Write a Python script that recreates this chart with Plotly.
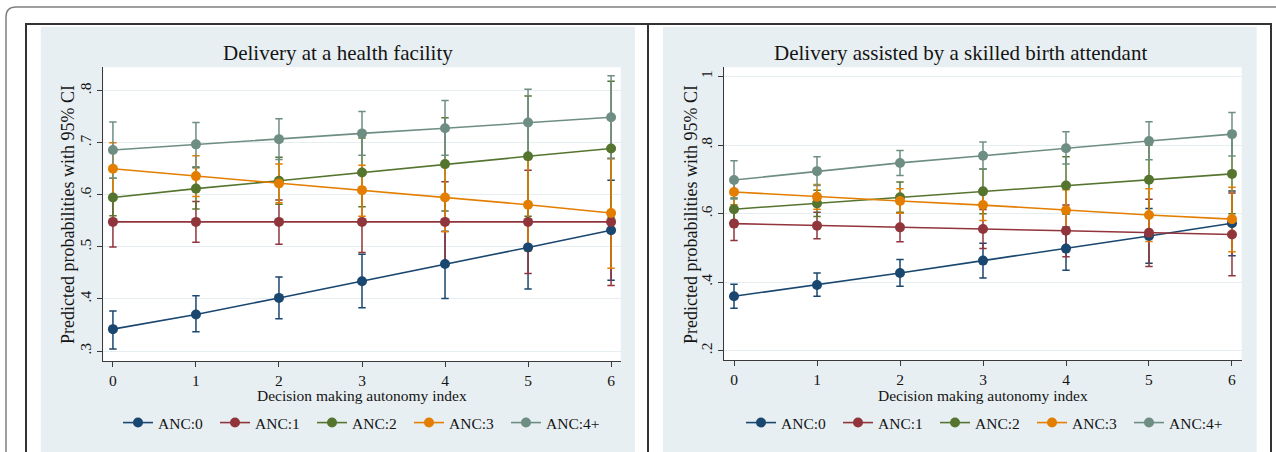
import plotly.graph_objects as go

# ---------------- data ----------------
autonomy = [0, 1, 2, 3, 4, 5, 6]
series_names = ["ANC:0", "ANC:1", "ANC:2", "ANC:3", "ANC:4+"]
series_colors = ["#1a476f", "#90353b", "#55752f", "#e37e00", "#6e8e84"]

# Panel 1: Delivery at a health facility
fac_est = [
    [0.342, 0.370, 0.402, 0.434, 0.467, 0.499, 0.532],
    [0.548, 0.548, 0.548, 0.548, 0.548, 0.548, 0.548],
    [0.595, 0.612, 0.627, 0.643, 0.659, 0.674, 0.689],
    [0.650, 0.636, 0.622, 0.609, 0.595, 0.581, 0.565],
    [0.686, 0.697, 0.707, 0.718, 0.728, 0.739, 0.749],
]
fac_lo = [
    [0.304, 0.337, 0.362, 0.383, 0.401, 0.419, 0.436],
    [0.500, 0.509, 0.505, 0.489, 0.471, 0.449, 0.426],
    [0.560, 0.573, 0.582, 0.577, 0.569, 0.559, 0.557],
    [0.600, 0.597, 0.585, 0.559, 0.529, 0.492, 0.459],
    [0.632, 0.654, 0.668, 0.676, 0.676, 0.675, 0.670],
]
fac_hi = [
    [0.377, 0.406, 0.442, 0.486, 0.530, 0.580, 0.628],
    [0.597, 0.587, 0.590, 0.606, 0.625, 0.647, 0.670],
    [0.632, 0.652, 0.672, 0.709, 0.748, 0.790, 0.818],
    [0.700, 0.675, 0.659, 0.657, 0.660, 0.668, 0.670],
    [0.740, 0.739, 0.746, 0.760, 0.781, 0.803, 0.829],
]

# Panel 2: Delivery assisted by a skilled birth attendant
sba_est = [
    [0.359, 0.392, 0.427, 0.463, 0.498, 0.535, 0.572],
    [0.571, 0.565, 0.560, 0.555, 0.550, 0.544, 0.539],
    [0.613, 0.630, 0.648, 0.665, 0.682, 0.699, 0.716],
    [0.663, 0.649, 0.637, 0.625, 0.610, 0.596, 0.584],
    [0.698, 0.724, 0.748, 0.769, 0.791, 0.812, 0.832],
]
sba_lo = [
    [0.324, 0.359, 0.388, 0.412, 0.435, 0.455, 0.477],
    [0.522, 0.527, 0.518, 0.498, 0.474, 0.446, 0.419],
    [0.580, 0.592, 0.604, 0.600, 0.598, 0.598, 0.600],
    [0.626, 0.613, 0.601, 0.580, 0.550, 0.519, 0.489],
    [0.643, 0.682, 0.711, 0.730, 0.745, 0.757, 0.768],
]
sba_hi = [
    [0.394, 0.427, 0.466, 0.514, 0.561, 0.615, 0.666],
    [0.620, 0.604, 0.602, 0.612, 0.625, 0.642, 0.660],
    [0.646, 0.668, 0.692, 0.730, 0.766, 0.800, 0.832],
    [0.700, 0.685, 0.673, 0.669, 0.670, 0.673, 0.677],
    [0.754, 0.766, 0.784, 0.809, 0.839, 0.868, 0.895],
]

fac_yticks = [0.3, 0.4, 0.5, 0.6, 0.7, 0.8]
fac_yticktext = [".3", ".4", ".5", ".6", ".7", ".8"]
sba_yticks = [0.2, 0.4, 0.6, 0.8, 1.0]
sba_yticktext = [".2", ".4", ".6", ".8", "1"]

titles = ["Delivery at a health facility", "Delivery assisted by a skilled birth attendant"]
x_title = "Decision making autonomy index"
y_title = "Predicted probabilities with 95% CI"

# ---------------- figure ----------------
W, H = 1276, 452
FONT = "Liberation Serif, Times New Roman, serif"
TXT = "#141414"
BG = "#e8eff2"


def px(x):
    return x / W


def py(y):
    return 1 - y / H


fig = go.Figure()

panels = [
    dict(est=fac_est, lo=fac_lo, hi=fac_hi, xa="x", ya="y", legend="legend"),
    dict(est=sba_est, lo=sba_lo, hi=sba_hi, xa="x2", ya="y2", legend="legend2"),
]

for p in panels:
    # confidence intervals first
    for i in range(5):
        est, lo, hi = p["est"][i], p["lo"][i], p["hi"][i]
        fig.add_trace(go.Scatter(
            x=autonomy, y=est, mode="markers",
            marker=dict(size=1, color="rgba(0,0,0,0)"),
            error_y=dict(type="data", symmetric=False,
                         array=[h - e for h, e in zip(hi, est)],
                         arrayminus=[e - l for e, l in zip(est, lo)],
                         color=series_colors[i], thickness=1.5, width=3.7),
            xaxis=p["xa"], yaxis=p["ya"], showlegend=False, hoverinfo="skip",
        ))
    # connected estimates on top
    for i in range(5):
        fig.add_trace(go.Scatter(
            x=autonomy, y=p["est"][i], mode="lines+markers", name=series_names[i],
            line=dict(color=series_colors[i], width=1.6),
            marker=dict(color=series_colors[i], size=10),
            xaxis=p["xa"], yaxis=p["ya"], legend=p["legend"],
        ))

axis_common = dict(
    showline=True, linecolor="#3a3a3a", linewidth=1,
    ticks="outside", ticklen=5, tickwidth=1, tickcolor="#3a3a3a",
    tickfont=dict(family=FONT, size=15.5, color=TXT),
    zeroline=False,
)

fig.update_layout(
    width=W, height=H, autosize=False,
    margin=dict(l=0, r=0, t=0, b=0),
    paper_bgcolor="white", plot_bgcolor="white",
    font=dict(family=FONT, color=TXT),
    xaxis=dict(domain=[px(103.3), px(620.7)], range=[-0.116, 6.116],
               tickvals=autonomy, showgrid=False, anchor="y", **axis_common),
    yaxis=dict(domain=[py(361), py(67.3)], range=[0.2808, 0.845],
               tickvals=fac_yticks, ticktext=fac_yticktext, tickangle=-90,
               showgrid=True, gridcolor="#e6eef1", gridwidth=1, anchor="x", **axis_common),
    xaxis2=dict(domain=[px(724.3), px(1241.7)], range=[-0.117, 6.117],
                tickvals=autonomy, showgrid=False, anchor="y2", **axis_common),
    yaxis2=dict(domain=[py(360), py(67.3)], range=[0.173, 1.027],
                tickvals=sba_yticks, ticktext=sba_yticktext, tickangle=-90,
                showgrid=True, gridcolor="#e6eef1", gridwidth=1, anchor="x2", **axis_common),
    legend=dict(orientation="h", x=px(118), xanchor="left", y=py(423), yanchor="middle",
                bgcolor="rgba(0,0,0,0)", font=dict(family=FONT, size=15.5, color=TXT),
                entrywidth=52, entrywidthmode="pixels"),
    legend2=dict(orientation="h", x=px(741), xanchor="left", y=py(423), yanchor="middle",
                 bgcolor="rgba(0,0,0,0)", font=dict(family=FONT, size=15.5, color=TXT),
                 entrywidth=52, entrywidthmode="pixels"),
    showlegend=True,
)

# background / frame shapes
r = 10
shapes = [
    # outer rounded border
    dict(type="path", xref="paper", yref="paper",
         path=(f"M {px(6)},{py(470)} L {px(6)},{py(7 + r)} "
               f"Q {px(6)},{py(7)} {px(6 + r)},{py(7)} L {px(1290)},{py(7)}"),
         line=dict(color="#808080", width=1.5), layer="below"),
    # panel frames
    dict(type="rect", xref="paper", yref="paper", x0=px(26), x1=px(648), y0=py(24), y1=py(470),
         line=dict(color="#333333", width=2), fillcolor="white", layer="below"),
    dict(type="rect", xref="paper", yref="paper", x0=px(648), x1=px(1271), y0=py(24), y1=py(470),
         line=dict(color="#333333", width=2), fillcolor="white", layer="below"),
    # graph regions
    dict(type="rect", xref="paper", yref="paper", x0=px(40.7), x1=px(635), y0=py(26.7), y1=py(470),
         line=dict(width=0), fillcolor=BG, layer="below"),
    dict(type="rect", xref="paper", yref="paper", x0=px(663), x1=px(1256.7), y0=py(26.7), y1=py(470),
         line=dict(width=0), fillcolor=BG, layer="below"),
    # plot regions
    dict(type="rect", xref="x domain", yref="y domain", x0=0, x1=1, y0=0, y1=1,
         line=dict(width=0), fillcolor="white", layer="below"),
    dict(type="rect", xref="x2 domain", yref="y2 domain", x0=0, x1=1, y0=0, y1=1,
         line=dict(width=0), fillcolor="white", layer="below"),
]
fig.update_layout(shapes=shapes)

annotations = [
    dict(text=titles[0], x=px(337.5), y=py(53), xref="paper", yref="paper",
         showarrow=False, font=dict(family=FONT, size=21, color=TXT), xanchor="center", yanchor="middle"),
    dict(text=titles[1], x=px(960), y=py(53), xref="paper", yref="paper",
         showarrow=False, font=dict(family=FONT, size=21, color=TXT), xanchor="center", yanchor="middle"),
    dict(text=x_title, x=px(362), y=py(395), xref="paper", yref="paper",
         showarrow=False, font=dict(family=FONT, size=15.5, color=TXT), xanchor="center", yanchor="middle"),
    dict(text=x_title, x=px(983), y=py(395), xref="paper", yref="paper",
         showarrow=False, font=dict(family=FONT, size=15.5, color=TXT), xanchor="center", yanchor="middle"),
    dict(text=y_title, x=px(68), y=py(215), xref="paper", yref="paper", textangle=-90,
         showarrow=False, font=dict(family=FONT, size=18, color=TXT), xanchor="center", yanchor="middle"),
    dict(text=y_title, x=px(691), y=py(215), xref="paper", yref="paper", textangle=-90,
         showarrow=False, font=dict(family=FONT, size=18, color=TXT), xanchor="center", yanchor="middle"),
]
fig.update_layout(annotations=annotations)

fig.write_html("out.html", config={"displayModeBar": False},
               post_script="document.body.style.margin='0';")
